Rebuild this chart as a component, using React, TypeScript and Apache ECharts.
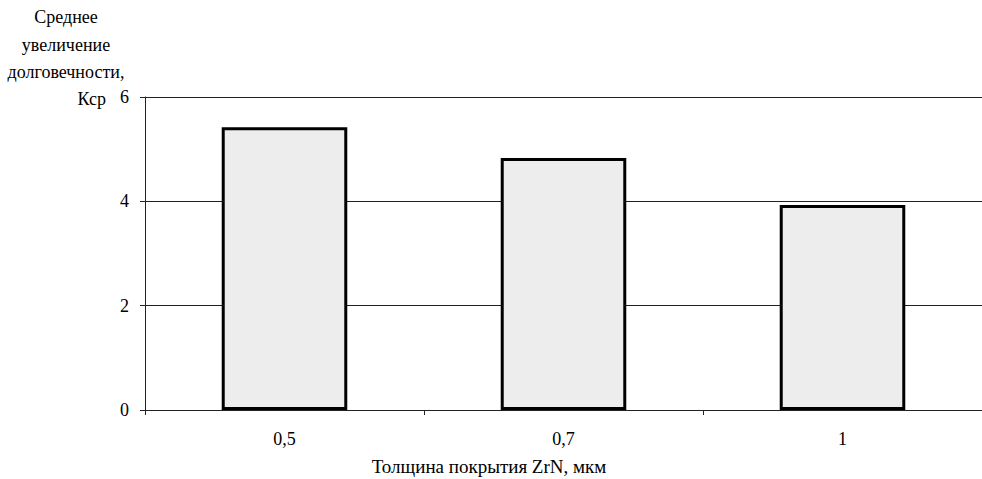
import React, { useEffect, useRef } from "react";
import * as echarts from "echarts";

const categories = ["0,5", "0,7", "1"];
const values = [5.42, 4.83, 3.93];
const yTicks = [0, 2, 4, 6];
const yTitleLines = ["Среднее", "увеличение", "долговечности,"];
const yTitleLast = "Кср";
const xTitle = "Толщина покрытия ZrN, мкм";

const FONT = "Times New Roman";

export default function App() {
  const ref = useRef<HTMLDivElement>(null);
  useEffect(() => {
    if (!ref.current) return;
    const chart = echarts.init(ref.current, null, { renderer: "svg" });
    const txt = (text: string, x: number, y: number, align: string, size = 18) => ({
      type: "text",
      x,
      y,
      style: {
        text,
        fill: "#000",
        fontFamily: FONT,
        fontSize: size,
        align,
        verticalAlign: "middle",
      },
    });
    chart.setOption({
      animation: false,
      backgroundColor: "#ffffff",
      textStyle: { fontFamily: FONT },
      grid: { left: 145, right: 0, top: 97, bottom: 69, containLabel: false },
      xAxis: {
        type: "category",
        data: categories,
        axisLine: { show: true, lineStyle: { color: "#222", width: 1 } },
        axisTick: { show: true, length: 5, lineStyle: { color: "#222" } },
        axisLabel: { color: "#000", fontFamily: FONT, fontSize: 18, margin: 20 },
        splitLine: { show: false },
      },
      yAxis: {
        type: "value",
        min: 0,
        max: 6,
        interval: 2,
        axisLine: { show: true, lineStyle: { color: "#222", width: 1 } },
        axisTick: { show: true, length: 5, lineStyle: { color: "#222" } },
        axisLabel: {
          color: "#000",
          fontFamily: FONT,
          fontSize: 18,
          margin: 16,
          formatter: (v: number) => (yTicks.includes(v) ? String(v) : ""),
        },
        splitLine: { show: true, lineStyle: { color: "#222", width: 1 } },
      },
      series: [
        {
          type: "bar",
          data: values,
          barWidth: "45%",
          itemStyle: { color: "#ededed", borderColor: "#000", borderWidth: 3 },
        },
      ],
      graphic: [
        ...yTitleLines.map((t, i) => txt(t, 66, 17 + i * 27.5, "center")),
        txt(yTitleLast, 106, 99, "right"),
        txt(xTitle, 489, 466, "center", 19),
      ],
    });
    return () => chart.dispose();
  }, []);
  return <div ref={ref} style={{ width: 982, height: 479, position: "absolute", left: 0, top: 0 }} />;
}
